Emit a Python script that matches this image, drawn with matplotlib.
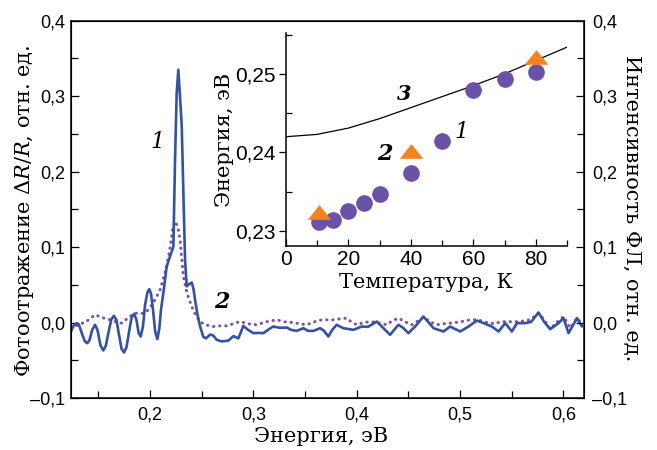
import numpy as np
import matplotlib
matplotlib.use('Agg')
import matplotlib.pyplot as plt
from matplotlib.ticker import FixedLocator, MultipleLocator

# tick labels: sans, axis labels: serif
plt.rcParams['font.family'] = ['Liberation Sans', 'DejaVu Sans']
plt.rcParams['mathtext.fontset'] = 'dejavuserif'

serif = 'DejaVu Serif'
blue = '#3352a3'
violet = '#7d52ab'
dot_col = '#6a52a6'
orange = '#f5821f'

# curve 1: photoreflectance (energy, value)
pr_energy = [0.1235, 0.1262, 0.1290, 0.1315, 0.1342, 0.1370, 0.1393, 0.1415, 0.1440, 0.1468,
             0.1492, 0.1520, 0.1548, 0.1572, 0.1600, 0.1625, 0.1651, 0.1676, 0.1700, 0.1725,
             0.1748, 0.1772, 0.1797, 0.1822, 0.1845, 0.1868, 0.1890, 0.1910, 0.1932, 0.1952,
             0.1975, 0.1993, 0.2010, 0.2029, 0.2050, 0.2071, 0.2090, 0.2106, 0.2129, 0.2161,
             0.2194, 0.2215, 0.2226, 0.2242, 0.2258, 0.2274, 0.2290, 0.2307, 0.2323, 0.2339,
             0.2355, 0.2380, 0.2404, 0.2420, 0.2436, 0.2460, 0.2484, 0.2516, 0.2542, 0.2581,
             0.2610, 0.2646, 0.2694, 0.2758, 0.2807, 0.2855, 0.2903, 0.2949, 0.3000, 0.3046,
             0.3097, 0.3142, 0.3191, 0.3258, 0.3323, 0.3364, 0.3419, 0.3484, 0.3529, 0.3580,
             0.3646, 0.3684, 0.3726, 0.3762, 0.3806, 0.3870, 0.3968, 0.4049, 0.4110, 0.4194,
             0.4255, 0.4323, 0.4403, 0.4449, 0.4500, 0.4565, 0.4646, 0.4691, 0.4743, 0.4840,
             0.4904, 0.5001, 0.5082, 0.5163, 0.5227, 0.5308, 0.5372, 0.5437, 0.5502, 0.5550,
             0.5630, 0.5688, 0.5759, 0.5814, 0.5872, 0.5953, 0.6001, 0.6050, 0.6131, 0.6179,
             0.6201]
pr_value = [-0.0119, -0.0040, -0.0008, -0.0040, -0.0150, -0.0250, -0.0274, -0.0230, -0.0100, -0.0030,
            -0.0100, -0.0300, -0.0370, -0.0310, -0.0120, 0.0040, 0.0089, 0.0030, -0.0163, -0.0350,
            -0.0397, -0.0330, -0.0124, 0.0070, 0.0115, 0.0040, -0.0140, -0.0185, -0.0050, 0.0234,
            0.0400, 0.0442, 0.0380, 0.0169, -0.0120, -0.0220, -0.0080, 0.0169, 0.0390, 0.0740,
            0.0880, 0.0960, 0.1007, 0.2150, 0.3040, 0.3350, 0.3000, 0.2600, 0.1710, 0.0830,
            0.0480, 0.0510, 0.0530, 0.0450, 0.0300, 0.0100, -0.0050, -0.0190, -0.0210, -0.0160,
            -0.0170, -0.0230, -0.0250, -0.0240, -0.0180, -0.0210, -0.0045, -0.0097, -0.0141, -0.0137,
            -0.0141, -0.0097, -0.0053, -0.0070, -0.0066, -0.0097, -0.0111, -0.0075, -0.0111, -0.0111,
            -0.0075, -0.0111, -0.0185, -0.0100, -0.0030, -0.0075, -0.0097, -0.0053, -0.0057, 0.0013,
            -0.0070, -0.0163, -0.0030, -0.0070, -0.0141, -0.0053, 0.0079, 0.0009, -0.0075, -0.0119,
            -0.0053, -0.0119, -0.0053, 0.0026, -0.0008, -0.0053, -0.0119, -0.0008, -0.0119, -0.0008,
            -0.0008, 0.0009, 0.0132, 0.0009, -0.0088, -0.0008, 0.0058, -0.0141, 0.0058, -0.0053,
            -0.0004]

# curve 2: photoluminescence
pl_energy = [0.1235, 0.1306, 0.1380, 0.1468, 0.1547, 0.1613, 0.1671, 0.1726, 0.1787, 0.1855,
             0.1913, 0.1968, 0.2019, 0.2058, 0.2097, 0.2129, 0.2161, 0.2194, 0.2218, 0.2242,
             0.2266, 0.2290, 0.2323, 0.2358, 0.2404, 0.2445, 0.2484, 0.2532, 0.2612, 0.2677,
             0.2742, 0.2803, 0.2871, 0.2949, 0.3033, 0.3123, 0.3226, 0.3307, 0.3387, 0.3452,
             0.3517, 0.3588, 0.3662, 0.3774, 0.3839, 0.3904, 0.3946, 0.4001, 0.4062, 0.4130,
             0.4207, 0.4291, 0.4343, 0.4404, 0.4469, 0.4533, 0.4594, 0.4646, 0.4711, 0.4775,
             0.4836, 0.4904, 0.5001, 0.5098, 0.5175, 0.5259, 0.5340, 0.5388, 0.5453, 0.5514,
             0.5582, 0.5678, 0.5759, 0.5814, 0.5872, 0.5930, 0.6001, 0.6066, 0.6131, 0.6182]
pl_value = [-0.0070, -0.0030, 0.0009, 0.0102, 0.0062, 0.0036, 0.0009, -0.0008, 0.0062, 0.0125,
            0.0115, 0.0146, 0.0234, 0.0327, 0.0433, 0.0579, 0.0742, 0.0990, 0.1230, 0.1340,
            0.1280, 0.1100, 0.0610, 0.0390, 0.0210, 0.0089, 0.0013, -0.0030, -0.0053, -0.0044,
            -0.0044, -0.0017, 0.0013, -0.0017, -0.0030, 0.0009, 0.0036, 0.0009, 0.0000, -0.0017,
            -0.0030, 0.0009, 0.0036, 0.0036, 0.0049, 0.0058, 0.0009, -0.0030, -0.0004, 0.0013,
            -0.0004, -0.0030, 0.0023, 0.0058, 0.0009, -0.0030, 0.0023, 0.0072, 0.0009, -0.0030,
            -0.0017, -0.0008, 0.0009, 0.0036, 0.0036, 0.0000, -0.0017, 0.0009, 0.0013, 0.0009,
            0.0013, 0.0036, 0.0125, 0.0036, -0.0087, -0.0004, 0.0079, -0.0074, 0.0058, -0.0017]

y_ticks = [-0.1, 0.0, 0.1, 0.2, 0.3, 0.4]
y_labels = ['\u20130,1', '0,0', '0,1', '0,2', '0,3', '0,4']
x_ticks = [0.2, 0.3, 0.4, 0.5, 0.6]
x_labels = ['0,2', '0,3', '0,4', '0,5', '0,6']

# inset data
temp_pr = [10.5, 15, 20, 25, 30, 40, 50, 60, 70, 80]
energy_pr = [0.2311, 0.2314, 0.2326, 0.2336, 0.2347, 0.2374, 0.2414, 0.2479, 0.2494, 0.2503]
temp_pl = [10.5, 40, 80]
energy_pl = [0.2324, 0.2402, 0.2522]
temp_calc = [0, 10, 20, 30, 40, 50, 60, 70, 80, 90]
energy_calc = [0.2420, 0.2423, 0.2431, 0.2443, 0.2457, 0.2471, 0.2485, 0.2500, 0.2517, 0.2534]
in_yticks = [0.23, 0.24, 0.25]
in_ylabels = ['0,23', '0,24', '0,25']
in_xticks = [0, 20, 40, 60, 80]

fig = plt.figure(figsize=(6.57, 4.5), dpi=100)
ax = fig.add_axes([0.108, 0.1156, 0.781, 0.8384])

ax.plot(pl_energy, pl_value, color=violet, lw=2.2, linestyle=(0, (0.1, 1.9)),
        dash_capstyle='round', zorder=2)
ax.plot(pr_energy, pr_value, color=blue, lw=1.9, zorder=3)

ax.set_xlim(0.1235, 0.62)
ax.set_ylim(-0.1, 0.4)
ax.xaxis.set_major_locator(FixedLocator(x_ticks))
ax.set_xticklabels(x_labels)
ax.xaxis.set_minor_locator(MultipleLocator(0.05))
ax.yaxis.set_major_locator(FixedLocator(y_ticks))
ax.set_yticklabels(y_labels)
ax.yaxis.set_minor_locator(MultipleLocator(0.05))
ax.tick_params(which='both', direction='in', width=0.9, labelsize=13, top=False, right=False)
ax.tick_params(which='major', length=6)
ax.tick_params(which='minor', length=5)
ax.tick_params(axis='x', pad=6)
ax.tick_params(axis='y', pad=4)
for s in ax.spines.values():
    s.set_linewidth(1.1)

ax.text(0.2077, 0.239, '1', family=serif, style='italic', fontsize=16, ha='center', va='center')
ax.text(0.2697, 0.027, '2', family=serif, style='italic', weight='bold', fontsize=16,
        ha='center', va='center')

ax2 = ax.twinx()
ax2.set_ylim(-0.1, 0.4)
ax2.yaxis.set_major_locator(FixedLocator(y_ticks))
ax2.set_yticklabels(y_labels)
ax2.yaxis.set_minor_locator(MultipleLocator(0.05))
ax2.tick_params(which='both', direction='in', width=0.9, labelsize=13, pad=6)
ax2.tick_params(which='major', length=6)
ax2.tick_params(which='minor', length=5)

# axis titles placed on the figure
fig.text(321 / 657, 1 - 436 / 450, 'Энергия, эВ', family=serif, fontsize=15,
         ha='center', va='center')
fig.text(25 / 657, 1 - 211 / 450, 'Фотоотражение Δ$R$/$R$, отн. ед.', family=serif,
         fontsize=15, rotation=90, ha='center', va='center')
fig.text(632 / 657, 1 - 208 / 450, 'Интенсивность ФЛ, отн. ед.', family=serif, fontsize=15,
         rotation=-90, ha='center', va='center')

# inset
axi = fig.add_axes([0.435, 0.4533, 0.428, 0.4734])
axi.patch.set_alpha(0)
axi.plot(temp_calc, energy_calc, color='black', lw=0.9, zorder=2)
axi.plot(temp_pr, energy_pr, 'o', color=dot_col, markersize=12, markeredgewidth=0, zorder=3)
tri = [(-1, -0.62), (1, -0.62), (0, 0.62)]
axi.plot(temp_pl, energy_pl, linestyle='none', marker=tri, color=orange, markersize=17,
         markeredgewidth=0, zorder=4)
axi.set_xlim(0, 90)
axi.set_ylim(0.2281, 0.2552)
axi.spines['top'].set_visible(False)
axi.spines['right'].set_visible(False)
for s in ['left', 'bottom']:
    axi.spines[s].set_linewidth(1.1)
axi.xaxis.set_major_locator(FixedLocator(in_xticks))
axi.xaxis.set_minor_locator(MultipleLocator(10))
axi.yaxis.set_major_locator(FixedLocator(in_yticks))
axi.set_yticklabels(in_ylabels)
axi.yaxis.set_minor_locator(MultipleLocator(0.005))
axi.tick_params(axis='x', which='both', direction='in', labelsize=15, width=0.9, pad=3)
axi.tick_params(axis='x', which='major', length=5)
axi.tick_params(axis='x', which='minor', length=4)
axi.tick_params(axis='y', which='major', direction='out', length=5, width=0.9, labelsize=15,
                pad=2)
axi.tick_params(axis='y', which='minor', direction='in', length=4, width=0.9)

fig.text(426 / 657, 1 - 283 / 450, 'Температура, К', family=serif, fontsize=15,
         ha='center', va='center')
fig.text(225 / 657, 1 - 140 / 450, 'Энергия, эВ', family=serif, fontsize=15,
         rotation=90, ha='center', va='center')

axi.text(37.9, 0.2475, '3', family=serif, style='italic', weight='bold', fontsize=15,
         ha='center', va='center')
axi.text(56.4, 0.2426, '1', family=serif, style='italic', fontsize=16, ha='center', va='center')
axi.text(31.8, 0.2398, '2', family=serif, style='italic', weight='bold', fontsize=16,
         ha='center', va='center')

fig.savefig('out.png', dpi=100)
